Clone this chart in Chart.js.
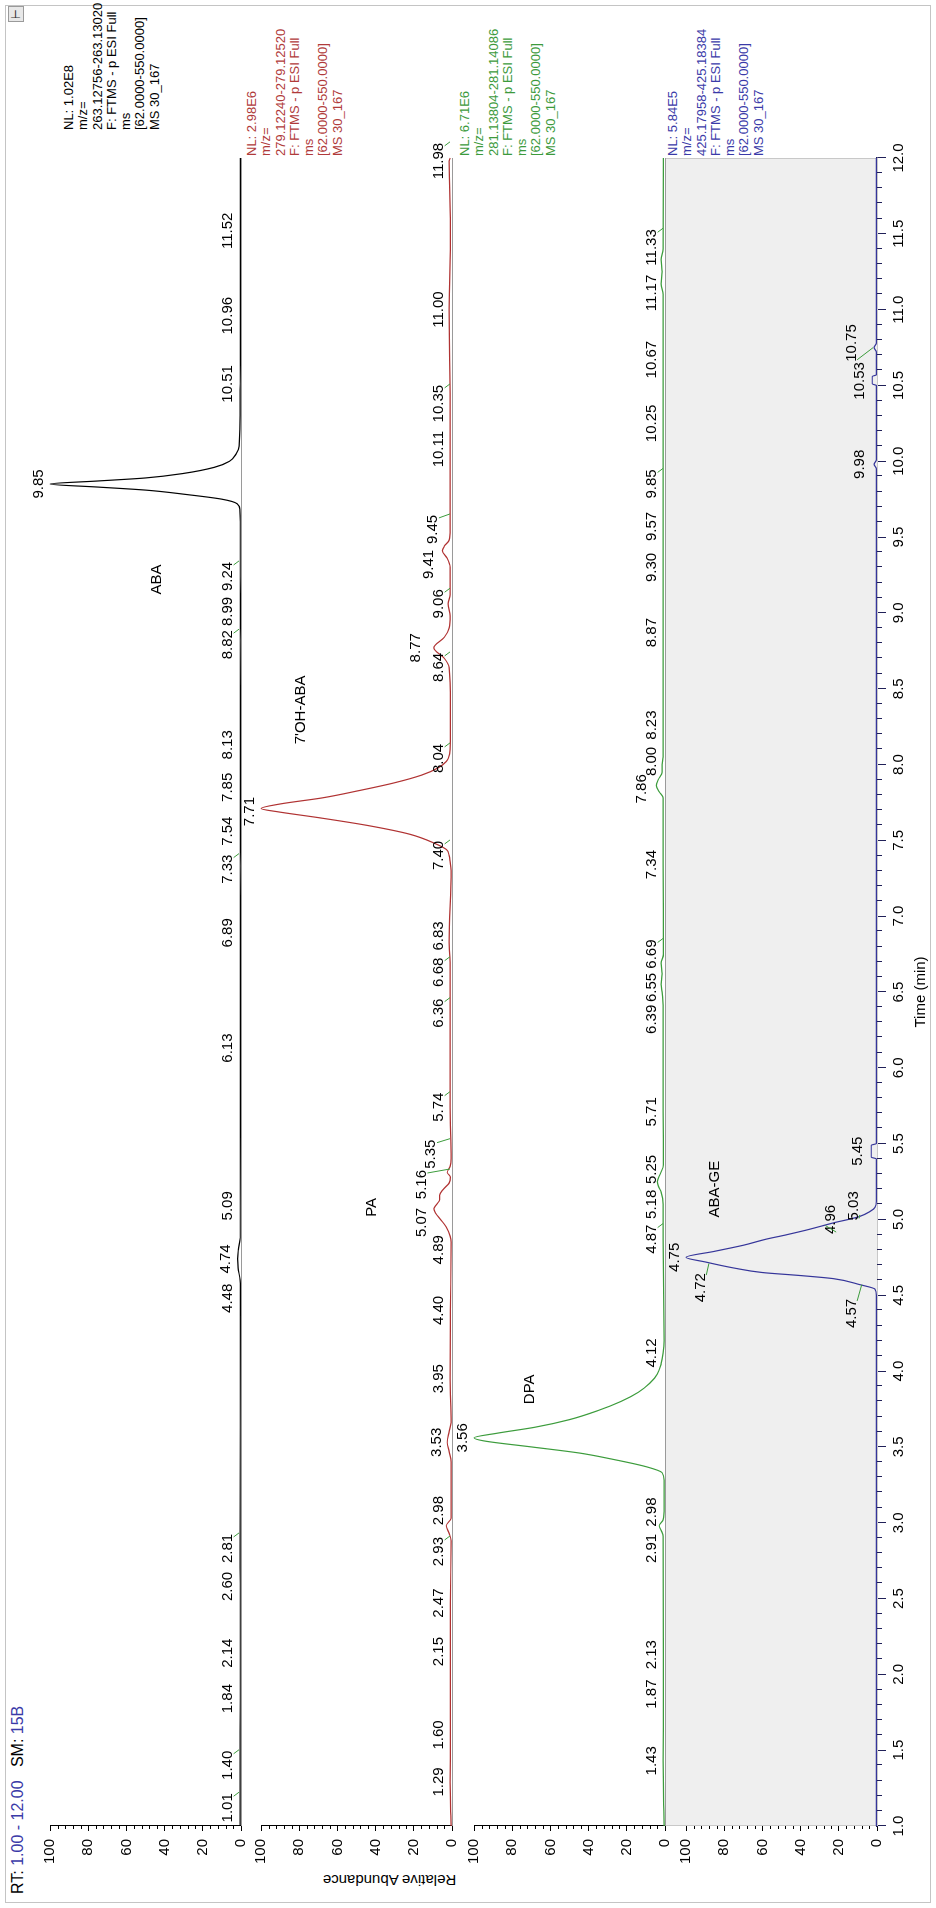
<!DOCTYPE html>
<html>
<head>
<meta charset="utf-8">
<title>Chromatogram</title>
<script src="https://cdn.jsdelivr.net/npm/chart.js@4.4.1/dist/chart.umd.min.js"></script>
<style>
  html, body { margin: 0; padding: 0; background: #fff; }
  #page { position: relative; width: 936px; height: 1908px; overflow: hidden; background: #fff; }
  /* the chart is drawn landscape and turned a quarter turn, like the original print */
  #land { position: absolute; left: -486px; top: 486px; width: 1908px; height: 936px;
          transform: rotate(-90deg); font-family: "Liberation Sans", Arial, sans-serif; }
  #land canvas { position: absolute; left: 0; }
  .frame { position: absolute; left: 5px; top: 5px; width: 1896px; height: 924px; border: 1px solid #c4c4c4; }
  .nl { position: absolute; font-size: 13px; line-height: 14.3px; white-space: pre; }
  .rt { position: absolute; left: 14px; top: 9px; font-size: 16px; line-height: 18px; white-space: pre; }
  .blue { color: #3a3aa8; }
  .ytitle { position: absolute; left: -72px; top: 381px; width: 200px; height: 17px; font-size: 15px;
            line-height: 17px; text-align: center; transform: rotate(-90deg); }
  .pin { position: absolute; left: 1886px; top: 8px; width: 14px; height: 14px; border: 1px solid #9a9a9a;
         background: #e8e8e8; font-size: 11px; line-height: 14px; text-align: center; color: #333; }
</style>
</head>
<body>
<div id="page"><div id="land">
  <div class="frame"></div>
  <div class="pin">&#8866;</div>
  <div class="rt">RT: <span class="blue">1.00 - 12.00</span>   SM: <span class="blue">15B</span></div>
  <div class="ytitle">Relative Abundance</div>
  <canvas id="c0" data-k="0" width="1908" height="245" style="top:16px;z-index:4"></canvas>
  <canvas id="c1" data-k="1" width="1908" height="245" style="top:227px;z-index:3"></canvas>
  <canvas id="c2" data-k="2" width="1908" height="245" style="top:440px;z-index:2"></canvas>
  <canvas id="c3" data-k="3" width="1908" height="285" style="top:652px;z-index:1"></canvas>
</div></div>
<script>
// axis ticks
var timeTickLabels = ['1.0','1.5','2.0','2.5','3.0','3.5','4.0','4.5','5.0','5.5','6.0','6.5',
  '7.0','7.5','8.0','8.5','9.0','9.5','10.0','10.5','11.0','11.5','12.0'];
var abundanceTicks = [0, 20, 40, 60, 80, 100];

// ABA, m/z 263 (black)
var abaTime  = [1.00, 1.01, 1.40, 1.84, 2.14, 2.60, 2.81, 4.48, 4.60, 4.68, 4.74, 4.80, 4.88, 5.09, 6.13,
  6.89, 7.33, 7.54, 7.85, 8.13, 8.82, 8.99, 9.24, 9.60, 9.68, 9.72, 9.75, 9.78, 9.81, 9.83, 9.85, 9.87,
  9.89, 9.92, 9.96, 10.00, 10.05, 10.10, 10.51, 10.96, 11.52, 12.00];
var abaAbund = [0.3, 0.5, 0.5, 0.4, 0.4, 0.4, 0.5, 0.3, 0.5, 1.5, 1.8, 1.4, 0.4, 0.4, 0.3,
  0.3, 0.4, 0.3, 0.3, 0.3, 0.4, 0.3, 0.4, 0.4, 0.6, 2, 10, 28, 50, 75, 100, 75,
  50, 30, 14, 6, 2.5, 1, 0.4, 0.3, 0.3, 0.3];

// 7'OH-ABA and PA, m/z 279 (red)
var ohTime  = [1.00, 1.29, 1.60, 2.15, 2.47, 2.88, 2.93, 2.98, 3.03, 3.40, 3.47, 3.53, 3.60, 3.66, 3.95,
  4.40, 4.85, 4.89, 4.95, 5.00, 5.04, 5.07, 5.10, 5.13, 5.16, 5.20, 5.24, 5.28, 5.31, 5.35, 5.40,
  5.74, 6.36, 6.68, 6.83, 7.30, 7.36, 7.40, 7.44, 7.48, 7.54, 7.60, 7.65, 7.69, 7.71, 7.74, 7.78,
  7.83, 7.88, 7.93, 7.98, 8.02, 8.04, 8.10, 8.40, 8.64, 8.70, 8.77, 8.84, 8.90, 8.98, 9.06, 9.12,
  9.30, 9.36, 9.41, 9.44, 9.48, 9.55, 10.11, 10.35, 11.00, 11.50, 11.98, 12.00];
var ohAbund = [0.5, 1, 0.8, 0.8, 0.8, 0.5, 1.5, 3, 0.5, 0.5, 1.5, 2.5, 1.5, 0.5, 1,
  0.8, 0.5, 1, 3, 6, 8.5, 9.5, 8, 6.5, 6.5, 4.5, 1.5, 0.8, 2.5, 1, 0.5,
  1, 1, 1, 1.5, 0.5, 1, 1.5, 3, 9, 22, 45, 70, 92, 100, 90, 68,
  48, 30, 16, 7, 3, 2, 1, 0.8, 1.5, 4, 9.5, 4, 1.5, 1, 2, 1,
  1, 2.5, 5, 4, 1.5, 1, 1, 1, 1.5, 0.8, 1.5, 1];

// DPA, m/z 281 (green)
var dpaTime  = [1.00, 1.43, 1.87, 2.13, 2.91, 2.95, 2.98, 3.02, 3.10, 3.28, 3.33, 3.37, 3.42, 3.46, 3.50,
  3.54, 3.56, 3.59, 3.63, 3.68, 3.74, 3.80, 3.86, 3.92, 3.98, 4.05, 4.12, 4.20, 4.87, 5.10, 5.18,
  5.22, 5.25, 5.30, 5.36, 5.71, 6.39, 6.50, 6.55, 6.62, 6.69, 6.75, 7.34, 7.78, 7.82, 7.86, 7.90,
  7.95, 8.00, 8.05, 8.23, 8.87, 9.30, 9.57, 9.85, 10.25, 10.67, 11.10, 11.17, 11.25, 11.33, 11.40, 12.00];
var dpaAbund = [0.5, 1, 0.8, 0.8, 1, 2, 3, 1, 0.5, 0.5, 1.5, 10, 28, 45, 70,
  95, 100, 88, 68, 50, 35, 23, 14, 8, 4, 2, 1, 0.5, 1, 1, 2,
  3.5, 4, 2.5, 0.8, 1, 1, 1.5, 2, 1.5, 2, 0.8, 1, 1, 3, 4.5, 3.5,
  1.5, 1.5, 1, 1, 1, 1, 1, 1, 1, 1, 1, 2, 1.5, 2, 1, 0.8];

// ABA-GE, m/z 425 (blue)
var geTime  = [1.00, 4.40, 4.50, 4.54, 4.57, 4.61, 4.63, 4.65, 4.68, 4.72, 4.75, 4.79, 4.83, 4.87, 4.90,
  4.93, 4.96, 4.98, 5.00, 5.02, 5.05, 5.08, 5.12, 5.40, 5.41, 5.49, 5.50, 9.95, 9.98, 10.01, 10.50,
  10.51, 10.56, 10.57, 10.72, 10.75, 10.78, 12.00];
var geAbund = [0.3, 0.3, 0.3, 1, 9, 23, 40, 60, 75, 90, 100, 85, 70, 58, 47,
  37, 28, 22, 15, 9, 4, 1, 0.3, 0.3, 3, 3, 0.3, 0.3, 1.5, 0.3, 0.3,
  2.5, 2.5, 0.3, 0.3, 1.5, 0.3, 0.3];

// peak labels: text, time where it is drawn, height (%) of its middle, leader (0 none, 1 short, [t, %] target)
var abaLabelText  = ['1.01','1.40','1.84','2.14','2.60','2.81','4.48','4.74','5.09','6.13','6.89','7.33',
  '7.54','7.85','8.13','8.82','8.99','9.24','9.85','10.51','10.96','11.52'];
var abaLabelAt    = [1.12, 1.40, 1.84, 2.14, 2.58, 2.83, 4.48, 4.74, 5.09, 6.13, 6.89, 7.31,
  7.56, 7.85, 8.13, 8.79, 9.01, 9.24, 9.85, 10.51, 10.96, 11.52];
var abaLabelLevel = [7, 7, 7, 7, 7, 7, 7, 8, 7, 7, 7, 7, 7, 7, 7, 7, 7, 7, 106, 7, 7, 7];
var abaLabelLead  = [1, 1, 0, 0, 0, 1, 0, 0, 0, 0, 0, 1, 0, 0, 0, 1, 0, 1, 0, 0, 0, 0];

var ohLabelText  = ['1.29','1.60','2.15','2.47','2.93','2.98','3.53','3.95','4.40','4.89','5.07','5.16',
  '5.35','5.74','6.36','6.68','6.83','7.40','7.71','8.04','8.64','8.77','9.06','9.41','9.45','10.11',
  '10.35','11.00','11.98'];
var ohLabelAt    = [1.29, 1.60, 2.15, 2.47, 2.81, 3.08, 3.53, 3.95, 4.40, 4.80, 4.98, 5.23,
  5.43, 5.74, 6.36, 6.63, 6.87, 7.40, 7.69, 8.04, 8.64, 8.77, 9.06, 9.32, 9.55, 10.08,
  10.38, 11.00, 11.98];
var ohLabelLevel = [7, 7, 7, 7, 7, 7, 8, 7, 7, 7, 16, 16, 11, 7, 7, 7, 7, 7, 106, 7, 7, 19, 7, 12, 10, 7,
  7, 7, 7];
var ohLabelLead  = [0, 0, 0, 0, 1, 0, 0, 0, 0, 0, 0, 1, 1, 1, 1, 1, 0, 1, 0, 1, 1, 0, 1, 0, 1, 0,
  1, 0, 1];

var dpaLabelText  = ['1.43','1.87','2.13','2.91','2.98','3.56','4.12','4.87','5.18','5.25','5.71','6.39',
  '6.55','6.69','7.34','7.86','8.00','8.23','8.87','9.30','9.57','9.85','10.25','10.67','11.17','11.33'];
var dpaLabelAt    = [1.43, 1.87, 2.13, 2.83, 3.07, 3.56, 4.12, 4.87, 5.10, 5.33, 5.71, 6.32,
  6.53, 6.75, 7.34, 7.84, 8.02, 8.26, 8.87, 9.30, 9.57, 9.85, 10.25, 10.67, 11.11, 11.41];
var dpaLabelLevel = [7, 7, 7, 7, 7, 106, 7, 7, 7, 7, 7, 7, 7, 7, 7, 12, 7, 7, 7, 7, 7, 7, 7, 7, 7, 7];
var dpaLabelLead  = [0, 0, 0, 0, 0, 0, 0, 1, 0, 0, 0, 0, 0, 1, 0, 0, 0, 0, 0, 0, 0, 1, 0, 0, 0, 1];

var geLabelText  = ['4.75','4.72','4.57','4.96','5.03','5.45','9.98','10.53','10.75'];
var geLabelAt    = [4.75, 4.55, 4.38, 5.00, 5.09, 5.45, 9.98, 10.53, 10.78];
var geLabelLevel = [106, 92, 13, 24, 12, 10, 9, 9, 13];
var geLabelLead  = [0, [4.71, 88], [4.57, 8], [4.96, 27], [5.03, 9], 0, 0, 0, [10.75, 2]];

// compound names written on each trace: name, time, height (%)
var compoundNames = [['ABA'], ["7'OH-ABA", 'PA'], ['DPA'], ['ABA-GE']];
var compoundAt    = [[9.22], [8.36, 5.08], [3.88], [5.20]];
var compoundLevel = [[44], [79, 42], [71], [85]];

// scan filter text beside each trace
var nlText = [
  ['NL: 1.02E8', 'm/z=', '263.12756-263.13020', 'F: FTMS - p ESI Full', 'ms', '[62.0000-550.0000]', 'MS 30_167'],
  ['NL: 2.98E6', 'm/z=', '279.12240-279.12520', 'F: FTMS - p ESI Full', 'ms', '[62.0000-550.0000]', 'MS 30_167'],
  ['NL: 6.71E6', 'm/z=', '281.13804-281.14086', 'F: FTMS - p ESI Full', 'ms', '[62.0000-550.0000]', 'MS 30_167'],
  ['NL: 5.84E5', 'm/z=', '425.17958-425.18384', 'F: FTMS - p ESI Full', 'ms', '[62.0000-550.0000]', 'MS 30_167']
];

var traceColors = ['#000000', '#b03232', '#3c9c3c', '#35359a'];
var textColors  = ['#000000', '#b03a3a', '#3c9a3c', '#3a3aa8'];

var panels = [
  {time: abaTime, abund: abaAbund, text: abaLabelText, at: abaLabelAt, level: abaLabelLevel, lead: abaLabelLead},
  {time: ohTime, abund: ohAbund, text: ohLabelText, at: ohLabelAt, level: ohLabelLevel, lead: ohLabelLead},
  {time: dpaTime, abund: dpaAbund, text: dpaLabelText, at: dpaLabelAt, level: dpaLabelLevel, lead: dpaLabelLead},
  {time: geTime, abund: geAbund, text: geLabelText, at: geLabelAt, level: geLabelLevel, lead: geLabelLead}
];

// layout of the landscape drawing
var PANEL_TOP = [50, 261, 474, 686];
var HEAD = 34;
var NL_LEFT = [1778, 1752, 1752, 1752];
var NL_MID = [69, 252, 465, 673];
var FONT = '15px "Liberation Sans", Arial, sans-serif';

Chart.defaults.font.family = '"Liberation Sans", Arial, sans-serif';
Chart.defaults.font.size = 15;
Chart.defaults.color = '#000';

var land = document.getElementById('land');
nlText.forEach(function (lines, k) {
  var d = document.createElement('div');
  d.className = 'nl';
  d.style.left = NL_LEFT[k] + 'px';
  d.style.top = (NL_MID[k] - 7) + 'px';
  d.style.color = textColors[k];
  d.textContent = lines.join('\n');
  land.appendChild(d);
});

var decor = {
  id: 'decor',
  beforeDatasetsDraw: function (chart) {
    var k = +chart.canvas.dataset.k;
    var ctx = chart.ctx, a = chart.chartArea, y = chart.scales.y;
    ctx.save();
    if (k === 3) {
      var top = y.getPixelForValue(111);
      ctx.fillStyle = '#efefef';
      ctx.fillRect(a.left, top, a.right - a.left, a.bottom - top);
      ctx.strokeStyle = '#c8c8c8';
      ctx.lineWidth = 1;
      ctx.strokeRect(a.left + 0.5, top + 0.5, a.right - a.left - 1, a.bottom - top);
    } else {
      ctx.strokeStyle = '#9a9a9a';
      ctx.lineWidth = 1;
      var b = Math.round(y.getPixelForValue(0)) + 0.5;
      ctx.beginPath(); ctx.moveTo(a.left, b); ctx.lineTo(a.right, b); ctx.stroke();
    }
    ctx.restore();
  },
  afterDraw: function (chart) {
    var k = +chart.canvas.dataset.k;
    var p = panels[k];
    var ctx = chart.ctx, a = chart.chartArea, x = chart.scales.x, y = chart.scales.y;
    ctx.save();
    // minor ticks
    ctx.lineWidth = 1;
    ctx.strokeStyle = '#000';
    for (var v = 4; v < 100; v += 4) {
      if (v % 20 === 0) continue;
      var py = Math.round(y.getPixelForValue(v)) + 0.5;
      ctx.beginPath(); ctx.moveTo(a.left, py); ctx.lineTo(a.left - 3, py); ctx.stroke();
    }
    if (k === 3) {
      ctx.strokeStyle = '#202058';
      for (var i = 11; i < 120; i++) {
        if (i % 5 === 0) continue;
        var px = Math.round(x.getPixelForValue(i / 10)) + 0.5;
        ctx.beginPath(); ctx.moveTo(px, a.bottom); ctx.lineTo(px, a.bottom + 5); ctx.stroke();
      }
    }
    // peak labels
    ctx.font = FONT;
    ctx.textAlign = 'center';
    ctx.textBaseline = 'middle';
    ctx.fillStyle = '#000';
    p.text.forEach(function (txt, j) {
      var lx = x.getPixelForValue(p.at[j]);
      var ly = y.getPixelForValue(p.level[j]);
      ctx.fillText(txt, lx, ly);
      var lead = p.lead[j];
      if (!lead) return;
      var w = ctx.measureText(txt).width;
      ctx.strokeStyle = '#3c9c3c';
      ctx.beginPath();
      if (lead === 1) {
        ctx.moveTo(lx + w / 2 - 3, ly + 6);
        ctx.lineTo(lx + w / 2 + 1, y.getPixelForValue(0) - 2);
      } else {
        var tx = x.getPixelForValue(lead[0]), ty = y.getPixelForValue(lead[1]);
        var sx = tx > lx ? lx + w / 2 - 2 : lx - w / 2 + 2;
        ctx.moveTo(sx, ly + 5);
        ctx.lineTo(tx, ty);
      }
      ctx.stroke();
    });
    compoundNames[k].forEach(function (name, j) {
      ctx.fillText(name, x.getPixelForValue(compoundAt[k][j]), y.getPixelForValue(compoundLevel[k][j]));
    });
    ctx.restore();
  }
};

function makePanel(k) {
  var p = panels[k];
  var pts = p.time.map(function (t, i) { return {x: t, y: p.abund[i]}; });
  var last = k === 3;
  new Chart(document.getElementById('c' + k), {
    type: 'line',
    data: {datasets: [{
      data: pts,
      borderColor: traceColors[k],
      borderWidth: 1.2,
      pointRadius: 0,
      cubicInterpolationMode: 'monotone',
      fill: false,
      clip: false
    }]},
    options: {
      responsive: false,
      animation: false,
      events: [],
      layout: {padding: {top: HEAD, right: 158, left: 0, bottom: last ? 0 : 20}},
      plugins: {legend: {display: false}, tooltip: {enabled: false}},
      scales: {
        x: {
          type: 'linear', min: 1, max: 12,
          display: last,
          afterFit: function (s) { if (last) s.height = 60; },
          afterBuildTicks: function (s) {
            s.ticks = timeTickLabels.map(function (l) { return {value: parseFloat(l)}; });
          },
          ticks: {
            autoSkip: false, maxRotation: 0, padding: 4,
            callback: function (v, i) { return timeTickLabels[i]; }
          },
          grid: {drawOnChartArea: false, drawTicks: true, tickLength: 9, color: '#202058'},
          border: {display: true, color: '#202058', width: 1.5},
          title: {display: true, text: 'Time (min)', padding: {top: 0, bottom: 7}}
        },
        y: {
          min: 0, max: 100,
          afterFit: function (s) { s.width = 82; },
          afterBuildTicks: function (s) {
            s.ticks = abundanceTicks.map(function (v) { return {value: v}; });
          },
          ticks: {padding: 8, callback: function (v) { return String(v); }},
          grid: {drawOnChartArea: false, drawTicks: true, tickLength: 5, color: '#000'},
          border: {display: true, color: '#000', width: 1}
        }
      }
    },
    plugins: [decor]
  });
}

[0, 1, 2, 3].forEach(makePanel);
</script>
</body>
</html>
